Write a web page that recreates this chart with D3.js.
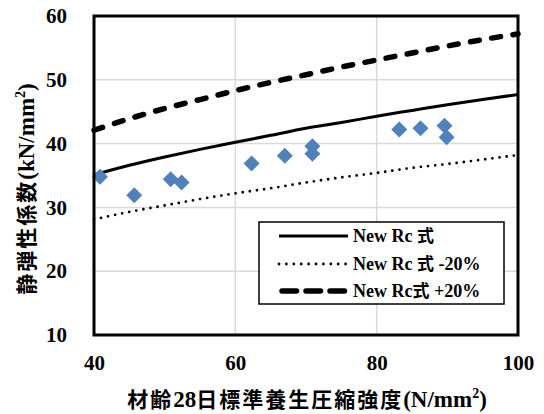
<!DOCTYPE html>
<html>
<head>
<meta charset="utf-8">
<script src="https://cdn.jsdelivr.net/npm/d3@7"></script>
<style>
  html, body { margin: 0; padding: 0; background: #fff; }
  svg { display: block; }
</style>
</head>
<body>
<svg id="chart" width="544" height="414"></svg>
<script>
// Measured specimens: 28-day standard-cured strength vs. static modulus
const specimenStrength = [40.85, 45.7, 50.85, 52.4, 62.3, 67.0, 70.9, 70.9, 83.2, 86.2, 89.6, 89.9];
const specimenModulus  = [34.8, 31.9, 34.4, 33.9, 36.9, 38.1, 39.6, 38.4, 42.2, 42.4, 42.8, 41.0];

// Curves for the New Rc formula and its ±20% band
const curveStrength = [40, 45, 50, 55, 60, 65, 70, 75, 80, 85, 90, 95, 100];
const curveNewRc    = [35.1, 36.6, 37.9, 39.1, 40.2, 41.3, 42.4, 43.3, 44.3, 45.2, 46.1, 46.9, 47.7];
const curveMinus20  = [28.1, 29.3, 30.3, 31.3, 32.2, 33.0, 33.9, 34.7, 35.4, 36.2, 36.8, 37.5, 38.2];
const curvePlus20   = [42.1, 43.9, 45.5, 46.9, 48.3, 49.6, 50.8, 52.0, 53.1, 54.2, 55.3, 56.3, 57.2];

const xTicks = [40, 60, 80, 100];
const yTicks = [10, 20, 30, 40, 50, 60];
const legendLabels = [
  ["New Rc ", "式", ""],
  ["New Rc ", "式", " -20%"],
  ["New Rc", "式", " +20%"]
];

const SERIF = "'Liberation Serif', 'Times New Roman', serif";
const CJK = "'Noto Sans CJK JP', 'Noto Sans CJK SC', sans-serif";

const svg = d3.select("#chart");
const plot = { left: 94, right: 518, top: 16, bottom: 335 };

const x = d3.scaleLinear().domain([40, 100]).range([plot.left, plot.right]);
const y = d3.scaleLinear().domain([10, 60]).range([plot.bottom, plot.top]);

// Gridlines
const grid = svg.append("g");
grid.selectAll("line.gy").data(yTicks).join("line")
  .attr("x1", plot.left).attr("x2", plot.right)
  .attr("y1", d => y(d)).attr("y2", d => y(d))
  .attr("stroke", "#d9d9d9").attr("stroke-width", 1.5);
grid.selectAll("line.gx").data(xTicks).join("line")
  .attr("y1", plot.top).attr("y2", plot.bottom)
  .attr("x1", d => x(d)).attr("x2", d => x(d))
  .attr("stroke", "#d9d9d9").attr("stroke-width", 1.5);

// Axes (labels only; the frame is drawn separately)
const yAxis = svg.append("g")
  .attr("transform", `translate(${plot.left},0)`)
  .call(d3.axisLeft(y).tickValues(yTicks).tickSize(0).tickPadding(27));
const xAxis = svg.append("g")
  .attr("transform", `translate(0,${plot.bottom})`)
  .call(d3.axisBottom(x).tickValues(xTicks).tickSize(0).tickPadding(20));
[yAxis, xAxis].forEach(a => {
  a.select(".domain").remove();
  a.selectAll("text")
    .attr("font-family", SERIF).attr("font-weight", "bold")
    .attr("font-size", 21).attr("fill", "#000");
});

// Curves
const lineGen = vals => d3.line()
  .x((d, i) => x(curveStrength[i]))
  .y(d => y(d))
  .curve(d3.curveMonotoneX)(vals);

const curves = svg.append("g");
curves.append("path").attr("d", lineGen(curvePlus20))
  .attr("fill", "none").attr("stroke", "#000").attr("stroke-width", 5.5)
  .attr("stroke-dasharray", "9 12.5").attr("stroke-linecap", "round");
curves.append("path").attr("d", lineGen(curveNewRc))
  .attr("fill", "none").attr("stroke", "#000").attr("stroke-width", 3);
curves.append("path").attr("d", lineGen(curveMinus20))
  .attr("fill", "none").attr("stroke", "#000").attr("stroke-width", 2.8)
  .attr("stroke-dasharray", "0 7.2").attr("stroke-linecap", "round");

// Specimen markers
const diamond = d3.symbol().type(d3.symbolSquare).size(128);
svg.append("g").selectAll("path")
  .data(specimenStrength.map((s, i) => [s, specimenModulus[i]]))
  .join("path")
  .attr("d", diamond)
  .attr("transform", d => `translate(${x(d[0])},${y(d[1])}) rotate(45)`)
  .attr("fill", "#4F81BD");

// Plot frame
svg.append("rect")
  .attr("x", plot.left).attr("y", plot.top)
  .attr("width", plot.right - plot.left).attr("height", plot.bottom - plot.top)
  .attr("fill", "none").attr("stroke", "#000").attr("stroke-width", 3);

// Legend
const lg = svg.append("g");
lg.append("rect")
  .attr("x", 259).attr("y", 222).attr("width", 245).attr("height", 82)
  .attr("fill", "#fff").attr("stroke", "#000").attr("stroke-width", 1.5);
const rowY = [236, 264, 291];
const sampleStyles = [
  { w: 3, dash: null, cap: "butt" },
  { w: 2.8, dash: "0 7.4", cap: "round" },
  { w: 5.5, dash: "14.5 9.5", cap: "round" }
];
rowY.forEach((ry, i) => {
  const st = sampleStyles[i];
  const ln = lg.append("line")
    .attr("x1", i === 2 ? 282 : 279).attr("x2", i === 2 ? 345 : 348)
    .attr("y1", ry).attr("y2", ry)
    .attr("stroke", "#000").attr("stroke-width", st.w)
    .attr("stroke-linecap", st.cap);
  if (st.dash) ln.attr("stroke-dasharray", st.dash);
  const t = lg.append("text")
    .attr("x", 353).attr("y", ry + 6)
    .attr("font-weight", "bold").attr("font-size", 18).attr("fill", "#000");
  t.append("tspan").attr("font-family", SERIF).attr("xml:space", "preserve").text(legendLabels[i][0]);
  t.append("tspan").attr("font-family", CJK).attr("font-size", 17).text(legendLabels[i][1]);
  t.append("tspan").attr("font-family", SERIF).attr("xml:space", "preserve").text(legendLabels[i][2]);
});

// Axis titles
const xt = svg.append("text")
  .attr("x", (plot.left + plot.right) / 2 + 1).attr("y", 407)
  .attr("text-anchor", "middle").attr("font-weight", "bold").attr("fill", "#000");
xt.append("tspan").attr("font-family", CJK).attr("font-size", 21).attr("letter-spacing", 2).text("材齢");
xt.append("tspan").attr("font-family", SERIF).attr("font-size", 23).text("28");
xt.append("tspan").attr("font-family", CJK).attr("font-size", 21).attr("letter-spacing", 2).text("日標準養生圧縮強度");
xt.append("tspan").attr("font-family", SERIF).attr("font-size", 23).text("(N/mm");
xt.append("tspan").attr("font-family", SERIF).attr("font-size", 14).attr("dy", -9).text("2");
xt.append("tspan").attr("font-family", SERIF).attr("font-size", 23).attr("dy", 9).text(")");

const yt = svg.append("text")
  .attr("transform", "translate(34,189) rotate(-90)")
  .attr("text-anchor", "middle").attr("font-weight", "bold").attr("fill", "#000");
yt.append("tspan").attr("font-family", CJK).attr("font-size", 21).attr("letter-spacing", 2).text("静弾性係数");
yt.append("tspan").attr("font-family", SERIF).attr("font-size", 23).text("(kN/mm");
yt.append("tspan").attr("font-family", SERIF).attr("font-size", 14).attr("dy", -9).text("2");
yt.append("tspan").attr("font-family", SERIF).attr("font-size", 23).attr("dy", 9).text(")");
</script>
</body>
</html>
